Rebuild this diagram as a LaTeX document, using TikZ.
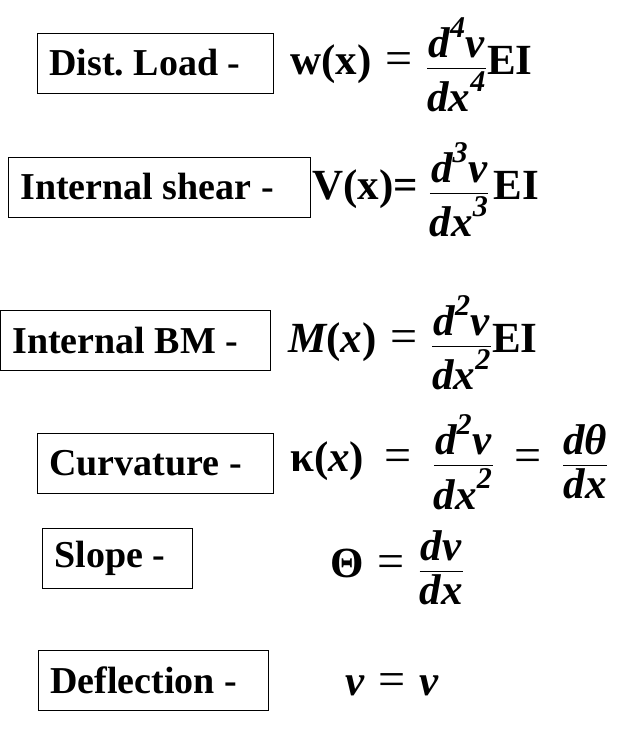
\documentclass[tikz,border=0pt]{standalone}
\usepackage{amsmath}
\usepackage{fontspec}
\setmainfont{Liberation Serif}
\frenchspacing
\newcommand{\bi}[1]{\text{\bfseries\itshape #1}}
\newcommand{\bt}[1]{\text{\bfseries #1}}
\newcommand{\qe}{\mathrel{\;\text{\fontsize{48}{50}\selectfont =}\;}}
\newcommand{\qw}{\mathrel{\;\;\text{\fontsize{48}{50}\selectfont =}\;\;}}
\begin{document}
\begin{tikzpicture}[x=1pt,y=-1pt,
  lbl/.style={draw,line width=0.8pt,font=\fontsize{38}{42}\selectfont\bfseries,inner xsep=12pt,minimum height=60pt,anchor=west,align=flush left,text width=#1-24pt},
  eq/.style={font=\fontsize{43}{46}\selectfont,anchor=west,inner sep=0pt}]
\useasboundingbox (0,0) rectangle (642,733);
\node[lbl=236pt] (l1) at (37,63) {Dist. Load -};
\node[eq] (e1) at (290,65) {$\bt{w(x)} \qe \dfrac{\bi{d}^{\bi{4}}\bi{v}}{\bi{dx}^{\bi{4}}}\bt{EI}$};
\node[lbl=302pt] (l2) at (8,187) {Internal shear -};
\node[eq] (e2) at (312,190) {$\bt{V(x)=}\ \dfrac{\bi{d}^{\bi{3}}\bi{v}}{\bi{dx}^{\bi{3}}}\,\bt{EI}$};
\node[lbl=270pt] (l3) at (0,340) {Internal BM -};
\node[eq] (e3) at (288,343) {$\bi{M}\bt{(}\bi{x}\bt{)} \qe \dfrac{\bi{d}^{\bi{2}}\bi{v}}{\bi{dx}^{\bi{2}}}\bt{EI}$};
\node[lbl=236pt] (l4) at (37,463) {Curvature -};
\node[eq] (e4) at (290,462) {$\bt{κ(}\bi{x}\bt{)} \qw \dfrac{\bi{d}^{\bi{2}}\bi{v}}{\bi{dx}^{\bi{2}}} \qw \dfrac{\bi{dθ}}{\bi{dx}}$};
\node[lbl=150pt] (l5) at (42,558) {Slope -};
\node[eq] (e5) at (330,568) {$\bt{Θ} \qe \dfrac{\bi{dv}}{\bi{dx}}$};
\node[lbl=230pt] (l6) at (38,680) {Deflection -};
\node[eq] (e6) at (345,685) {$\bi{v} \qe \bi{v}$};
\end{tikzpicture}
\end{document}
